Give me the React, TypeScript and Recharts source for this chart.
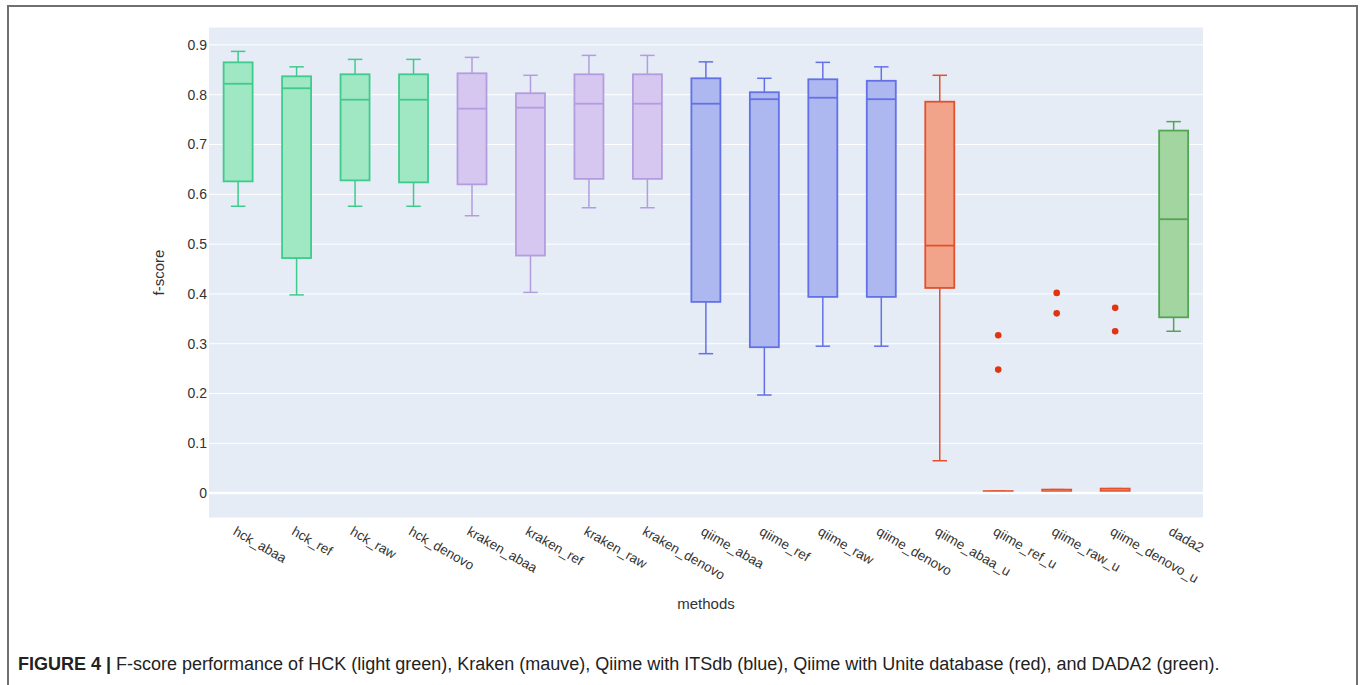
import React from 'react';
import { ComposedChart, Bar, XAxis, YAxis, CartesianGrid, ReferenceLine, Label } from 'recharts';

const categories = ['hck_abaa', 'hck_ref', 'hck_raw', 'hck_denovo', 'kraken_abaa', 'kraken_ref', 'kraken_raw', 'kraken_denovo', 'qiime_abaa', 'qiime_ref', 'qiime_raw', 'qiime_denovo', 'qiime_abaa_u', 'qiime_ref_u', 'qiime_raw_u', 'qiime_denovo_u', 'dada2'];
const whiskerHigh = [0.887, 0.856, 0.871, 0.871, 0.875, 0.839, 0.879, 0.879, 0.866, 0.833, 0.865, 0.856, 0.839, 0.004, 0.007, 0.009, 0.746];
const q3 = [0.865, 0.837, 0.841, 0.841, 0.843, 0.803, 0.841, 0.841, 0.833, 0.805, 0.831, 0.828, 0.786, 0.004, 0.007, 0.009, 0.728];
const median = [0.822, 0.813, 0.790, 0.790, 0.772, 0.774, 0.782, 0.782, 0.782, 0.791, 0.794, 0.791, 0.497, 0.002, 0.003, 0.004, 0.550];
const q1 = [0.626, 0.472, 0.628, 0.624, 0.620, 0.477, 0.631, 0.631, 0.384, 0.293, 0.394, 0.394, 0.412, 0.0, 0.0, 0.0, 0.353];
const whiskerLow = [0.576, 0.398, 0.576, 0.576, 0.557, 0.403, 0.573, 0.573, 0.280, 0.197, 0.295, 0.295, 0.065, 0.0, 0.0, 0.0, 0.325];
const outliers: number[][] = [[], [], [], [], [], [], [], [], [], [], [], [], [], [0.317, 0.248], [0.402, 0.361], [0.372, 0.325], []];
const groups = ['hck', 'hck', 'hck', 'hck', 'kraken', 'kraken', 'kraken', 'kraken', 'qiime', 'qiime', 'qiime', 'qiime', 'unite', 'unite', 'unite', 'unite', 'dada2'];
const yTicks = [0, 0.1, 0.2, 0.3, 0.4, 0.5, 0.6, 0.7, 0.8, 0.9];

const Y_MIN = -0.05;
const Y_MAX = 0.936;

const palette: Record<string, { stroke: string; fill: string }> = {
  hck: { stroke: '#3fcb8c', fill: '#a0e7c4' },
  kraken: { stroke: '#b39ddf', fill: '#d6c7f1' },
  qiime: { stroke: '#6470e6', fill: '#aeb8f0' },
  unite: { stroke: '#e4502c', fill: '#f2a48a' },
  dada2: { stroke: '#52a552', fill: '#a3d5a1' },
};

const data = categories.map((name, i) => ({
  name,
  lo: whiskerLow[i],
  q1: q1[i],
  med: median[i],
  q3: q3[i],
  hi: whiskerHigh[i],
  out: outliers[i],
  group: groups[i],
  span: [Y_MIN, Y_MAX],
}));

const BoxShape = (props: any) => {
  const { x, y, width, height, payload } = props;
  const py = (v: number) => y + ((Y_MAX - v) / (Y_MAX - Y_MIN)) * height;
  const c = palette[payload.group];
  const cx = x + width / 2;
  const capW = width / 2;
  const yq1 = py(payload.q1);
  const yq3 = py(payload.q3);
  const boxH = Math.max(yq1 - yq3, 1);
  return (
    <g>
      <line x1={cx} x2={cx} y1={py(payload.hi)} y2={yq3} stroke={c.stroke} strokeWidth={1.5} />
      <line x1={cx} x2={cx} y1={yq1} y2={py(payload.lo)} stroke={c.stroke} strokeWidth={1.5} />
      <line x1={cx - capW / 2} x2={cx + capW / 2} y1={py(payload.hi)} y2={py(payload.hi)} stroke={c.stroke} strokeWidth={1.5} />
      <line x1={cx - capW / 2} x2={cx + capW / 2} y1={py(payload.lo)} y2={py(payload.lo)} stroke={c.stroke} strokeWidth={1.5} />
      <rect x={x} y={yq3} width={width} height={boxH} fill={c.fill} stroke={c.stroke} strokeWidth={1.8} />
      <line x1={x} x2={x + width} y1={py(payload.med)} y2={py(payload.med)} stroke={c.stroke} strokeWidth={1.8} />
      {payload.out.map((o: number, k: number) => (
        <circle key={k} cx={cx} cy={py(o)} r={3.3} fill="#e2340f" />
      ))}
    </g>
  );
};

const XTick = (props: any) => {
  const { x, y, payload } = props;
  return (
    <text
      transform={`translate(${x - 6},${y + 8}) rotate(30)`}
      textAnchor="start"
      fontSize={13.5}
      fill="#333"
      fontFamily="Liberation Sans, Arial, sans-serif"
    >
      {payload.value}
    </text>
  );
};

export default function App() {
  return (
    <div style={{ position: 'absolute', left: 0, top: 0, width: 1360, height: 685, background: '#fff', overflow: 'hidden', fontFamily: 'Liberation Sans, Arial, sans-serif' }}>
      <div style={{ position: 'absolute', left: 7, top: 5, width: 1347, height: 720, borderTop: '2px solid #707070', borderLeft: '2px solid #707070', borderRight: '2px solid #707070' }} />
      <div style={{ position: 'absolute', left: 0, top: 0 }}>
        <ComposedChart
          width={1360}
          height={640}
          data={data}
          margin={{ top: 27, right: 157, bottom: 42, left: 169 }}
          barCategoryGap="25%"
        >
          <CartesianGrid vertical={false} stroke="#ffffff" strokeWidth={1} fill="#e5ecf6" />
          <XAxis
            dataKey="name"
            type="category"
            height={80}
            tickLine={false}
            axisLine={false}
            interval={0}
            tick={<XTick />}
          >
            <Label
              content={(p: any) => (
                <text x={p.viewBox.x + p.viewBox.width / 2} y={p.viewBox.y + 91} textAnchor="middle" fontSize={15} fill="#333" fontFamily="Liberation Sans, Arial, sans-serif">
                  methods
                </text>
              )}
            />
          </XAxis>
          <YAxis
            type="number"
            domain={[Y_MIN, Y_MAX]}
            allowDataOverflow
            ticks={yTicks}
            width={40}
            tickLine={false}
            axisLine={false}
            tickSize={0}
            tickMargin={2}
            tickFormatter={(v: number) => (v === 0 ? '0' : v.toFixed(1))}
            tick={{ fontSize: 14, fill: '#333', fontFamily: 'Liberation Sans, Arial, sans-serif' }}
          >
            <Label
              content={(p: any) => {
                const cx = p.viewBox.x - 11;
                const cy = p.viewBox.y + p.viewBox.height / 2;
                return (
                  <text x={cx} y={cy} transform={`rotate(-90 ${cx} ${cy})`} textAnchor="middle" dominantBaseline="central" fontSize={15} fill="#333" fontFamily="Liberation Sans, Arial, sans-serif">
                    f-score
                  </text>
                );
              }}
            />
          </YAxis>
          <ReferenceLine y={0} stroke="#ffffff" strokeWidth={2.5} />
          <Bar dataKey="span" shape={<BoxShape />} isAnimationActive={false} />
        </ComposedChart>
      </div>
      <div style={{ position: 'absolute', left: 18, top: 654, fontSize: 18, color: '#222', whiteSpace: 'nowrap', fontFamily: 'Liberation Sans, Arial, sans-serif' }}>
        <b>FIGURE 4 |</b> F-score performance of HCK (light green), Kraken (mauve), Qiime with ITSdb (blue), Qiime with Unite database (red), and DADA2 (green).
      </div>
    </div>
  );
}
